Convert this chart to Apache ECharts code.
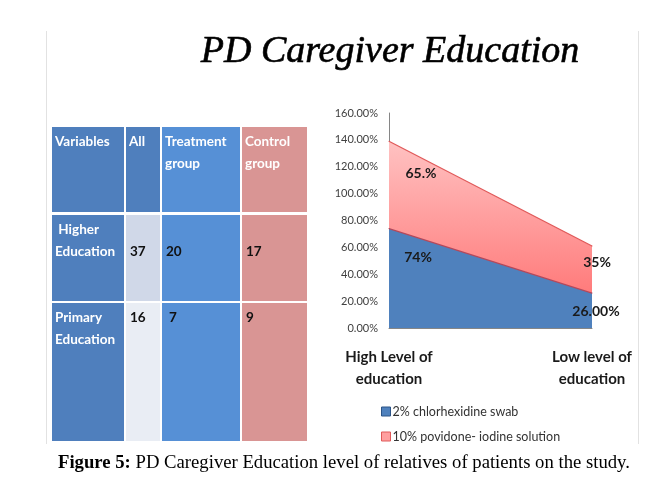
<!DOCTYPE html>
<html>
<head>
<meta charset="utf-8">
<script src="https://cdn.jsdelivr.net/npm/echarts@6/dist/echarts.min.js"></script>
<style>
html, body { margin: 0; padding: 0; background: #fff; }
#main { width: 670px; height: 491px; }
</style>
</head>
<body>
<div id="main"></div>
<script>
// chart data
var categories = ['High Level of\neducation', 'Low level of\neducation'];
var seriesNames = ['2% chlorhexidine swab', '10% povidone- iodine solution'];
var chlorhexidine = [74, 26];
var povidone = [65, 35];
var chlorLabels = ['74%', '26.00%'];
var povLabels = ['65.%', '35%'];

// table data
var tableHead = ['Variables', 'All', 'Treatment\ngroup', 'Control\ngroup'];
var rowNames = [' Higher\nEducation', 'Primary\nEducation'];
var allCounts = [37, 16];
var treatmentCounts = [20, 7];
var controlCounts = [17, 9];

var myChart = echarts.init(document.getElementById('main'));

// table layout
var colX = [52, 126, 162, 242];
var colW = [72, 34, 78, 65];
var rowY = [127, 215, 303];
var rowH = [85, 86, 138];
var numLine = [1, 0]; // which text line the numbers sit on
var colColors = [
  ['#4f7fbd', '#4f7fbd', '#4f7fbd'],
  ['#4f7fbd', '#d0d8e8', '#e9edf4'],
  ['#5690d6', '#5690d6', '#5690d6'],
  ['#d99594', '#d99594', '#d99594']
];
var cellFont = 'bold 13.5px Lato';

var graphics = [];
// frame lines
graphics.push({ type: 'line', shape: { x1: 46.5, y1: 31, x2: 46.5, y2: 444 }, style: { stroke: '#e2e2e2', lineWidth: 1 } });
graphics.push({ type: 'line', shape: { x1: 638.5, y1: 31, x2: 638.5, y2: 444 }, style: { stroke: '#e2e2e2', lineWidth: 1 } });

// title
graphics.push({
  type: 'text', x: 390, y: 52,
  style: { text: 'PD Caregiver Education', font: 'italic 38px "Liberation Serif"', fill: '#000', stroke: '#000', lineWidth: 0.6, align: 'center', verticalAlign: 'middle' }
});

// table cells
for (var c = 0; c < 4; c++) {
  for (var r = 0; r < 3; r++) {
    graphics.push({
      type: 'rect',
      shape: { x: colX[c], y: rowY[r], width: colW[c], height: rowH[r] },
      style: { fill: colColors[c][r] }
    });
  }
  graphics.push({
    type: 'text', x: colX[c] + 3, y: rowY[0] + 4,
    style: { text: tableHead[c], font: cellFont, fill: '#fff', lineHeight: 22 }
  });
}
for (var i = 0; i < rowNames.length; i++) {
  var rowTop = rowY[i + 1] + 4;
  graphics.push({
    type: 'text', x: colX[0] + 3, y: rowTop,
    style: { text: rowNames[i], font: cellFont, fill: '#fff', lineHeight: 22 }
  });
  var vals = [allCounts[i], treatmentCounts[i], controlCounts[i]];
  for (var k = 0; k < 3; k++) {
    graphics.push({
      type: 'text', x: colX[k + 1] + 4 + (k === 1 && i === 1 ? 3 : 0), y: rowTop + numLine[i] * 22,
      style: { text: String(vals[k]), font: cellFont, fill: '#111', lineHeight: 22 }
    });
  }
}

// caption
graphics.push({
  type: 'text', x: 58, y: 463,
  style: {
    text: '{b|Figure 5:} PD Caregiver Education level of relatives of patients on the study.',
    font: '18.7px "Liberation Serif"', fill: '#000', verticalAlign: 'middle',
    rich: { b: { font: 'bold 18.7px "Liberation Serif"', fill: '#000' } }
  }
});

var chlorOffsets = [[29, 29], [4, 18]];
var povOffsets = [[32, 32], [5, 16]];

function labelled(values, texts, offsets) {
  return values.map(function (v, i) {
    return {
      value: v,
      label: { show: true, formatter: texts[i], offset: offsets[i] }
    };
  });
}

function labelStyle() {
  return { show: true, position: 'inside', fontFamily: 'Lato', fontWeight: 'bold', fontSize: 14, color: '#1a1a1a' };
}

myChart.setOption({
  animation: false,
  graphic: graphics,
  grid: { left: 389, top: 113, width: 203, height: 215 },
  legend: {
    orient: 'vertical', left: 376, top: 400, itemGap: 12,
    itemWidth: 9, itemHeight: 9, icon: 'rect',
    textStyle: { fontFamily: 'Lato', fontSize: 12.5, color: '#333', padding: [0, 0, 0, -3] },
    data: [
      { name: seriesNames[0], itemStyle: { color: '#4f81bd', borderColor: '#2c5487', borderWidth: 1, opacity: 1 } },
      { name: seriesNames[1], itemStyle: { color: '#ff9f9f', borderColor: '#e05a5a', borderWidth: 1, opacity: 1 } }
    ]
  },
  xAxis: {
    type: 'category', data: categories, boundaryGap: false,
    axisLine: { lineStyle: { color: '#868686', width: 1 } },
    axisTick: { show: false },
    axisLabel: { margin: 18, fontFamily: 'Lato', fontWeight: 'bold', fontSize: 15, color: '#1a1a1a', lineHeight: 22 }
  },
  yAxis: {
    type: 'value', min: 0, max: 160, interval: 20,
    axisLine: { show: true, lineStyle: { color: '#868686', width: 1 } },
    axisTick: { show: false },
    splitLine: { show: false },
    axisLabel: { margin: 11, fontFamily: 'Lato', fontSize: 11, color: '#404040', formatter: function (v) { return v.toFixed(2) + '%'; } }
  },
  series: [
    {
      name: seriesNames[0], type: 'line', stack: 'edu',
      data: labelled(chlorhexidine, chlorLabels, chlorOffsets),
      symbol: 'circle', symbolSize: 1, showSymbol: true,
      itemStyle: { color: '#b6485a' },
      lineStyle: { color: '#b6485a', width: 1.2 },
      areaStyle: { color: '#4f81bd', opacity: 1 },
      label: labelStyle(),
      z: 2
    },
    {
      name: seriesNames[1], type: 'line', stack: 'edu',
      data: labelled(povidone, povLabels, povOffsets),
      symbol: 'circle', symbolSize: 1, showSymbol: true,
      itemStyle: { color: '#e05a5a' },
      lineStyle: { color: '#e05a5a', width: 1.2 },
      areaStyle: {
        opacity: 1,
        color: { type: 'linear', x: 0, y: 0, x2: 0, y2: 1, colorStops: [{ offset: 0, color: '#ffc2c2' }, { offset: 1, color: '#ff7b7b' }] }
      },
      label: labelStyle(),
      z: 1
    }
  ]
});
</script>
</body>
</html>
